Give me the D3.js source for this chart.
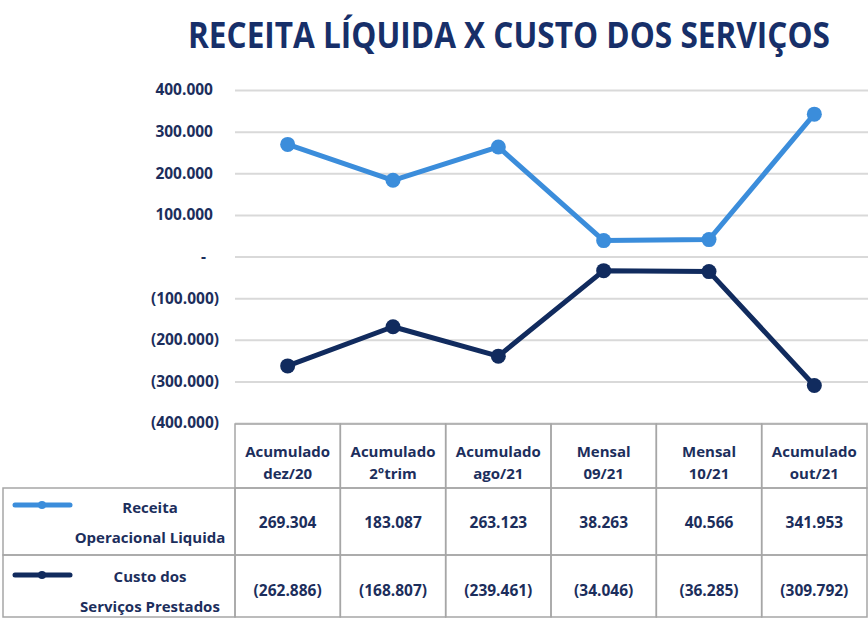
<!DOCTYPE html>
<html lang="pt">
<head>
    <meta charset="UTF-8">
    <title>Receita Líquida x Custo dos Serviços</title>
    <script src="https://d3js.org/d3.v7.min.js"></script>
    <style>
        body { margin: 0; background: #fff; }
        text { font-family: "Open Sans", sans-serif; font-weight: bold; fill: #1c2e5c; }
        .grid line { stroke: #d9d9d9; stroke-width: 2; }
        .grid path { display: none; }
        .cell { fill: none; stroke: #a6a6a6; stroke-width: 1.5; }
    </style>
</head>
<body>
<div id="chart"></div>
<script>
// data
const categories = ["dez/20", "2°trim", "ago/21", "09/21", "10/21", "out/21"];
const headerTop = ["Acumulado", "Acumulado", "Acumulado", "Mensal", "Mensal", "Acumulado"];
const receita = [269304, 183087, 263123, 38263, 40566, 341953];
const custo = [-262886, -168807, -239461, -34046, -36285, -309792];
const yTicks = [400000, 300000, 200000, 100000, 0, -100000, -200000, -300000, -400000];
const seriesNames = [["Receita", "Operacional Liquida"], ["Custo dos", "Serviços Prestados"]];
const seriesColors = ["#3b8ddb", "#112b5e"];
const title = "RECEITA LÍQUIDA X CUSTO DOS SERVIÇOS";

const W = 868, H = 618;
const plotLeft = 235, plotRight = 867;

// number format like the spreadsheet: 269.304 / (262.886) / -
const thousands = d3.formatLocale({ decimal: ",", thousands: ".", grouping: [3], currency: ["", ""] }).format(",");
function fmt(v) {
    if (v === 0) return "-";
    return v < 0 ? "(" + thousands(-v) + ")" : thousands(v);
}

const svg = d3.select("#chart").append("svg")
    .attr("width", W)
    .attr("height", H);

// title, squeezed horizontally to the condensed look of the original
const titleText = svg.append("text")
    .attr("x", 0)
    .attr("y", 0)
    .style("font-size", "35px")
    .style("fill", "#172f69")
    .text(title);
const natural = titleText.node().getComputedTextLength();
titleText.attr("transform", `translate(188,48) scale(${642 / natural},1)`);

// scales
const x = d3.scaleBand()
    .domain(categories)
    .range([plotLeft, plotRight])
    .paddingInner(0);

const y = d3.scaleLinear()
    .domain([-400000, 400000])
    .range([423, 90]);

const cx = (i) => x(categories[i]) + x.bandwidth() / 2;

// gridlines
svg.append("g")
    .attr("class", "grid")
    .attr("transform", `translate(${plotLeft},0)`)
    .call(d3.axisLeft(y).tickValues(yTicks).tickSize(-(W - plotLeft)).tickFormat(""));

// y labels
const yAxis = svg.append("g")
    .attr("transform", `translate(219,0)`)
    .call(d3.axisLeft(y).tickValues(yTicks).tickSize(0).tickPadding(0).tickFormat(fmt));
yAxis.select(".domain").remove();
yAxis.selectAll("text")
    .style("font-size", "15.5px")
    .style("font-family", "\"Open Sans\", sans-serif")
    .style("fill", "#1c2e5c")
    .attr("dx", d => d > 0 ? -6 : (d === 0 ? -13 : 0));

// lines and markers
const seriesData = [receita, custo];
const line = d3.line()
    .x((d, i) => cx(i))
    .y(d => y(d));

seriesData.forEach((vals, s) => {
    svg.append("path")
        .datum(vals)
        .attr("fill", "none")
        .attr("stroke", seriesColors[s])
        .attr("stroke-width", 5)
        .attr("stroke-linejoin", "round")
        .attr("d", line);

    svg.selectAll(".dot" + s)
        .data(vals)
        .enter()
        .append("circle")
        .attr("cx", (d, i) => cx(i))
        .attr("cy", d => y(d))
        .attr("r", 7.5)
        .attr("fill", seriesColors[s]);
});

// data table
const headTop = 424, headBottom = 488, row1Bottom = 555, row2Bottom = 617;
const rowTops = [headBottom, row1Bottom];
const rowBottoms = [row1Bottom, row2Bottom];

// header cells
categories.forEach((c, i) => {
    svg.append("rect")
        .attr("class", "cell")
        .attr("x", x(c))
        .attr("y", headTop)
        .attr("width", x.bandwidth())
        .attr("height", headBottom - headTop);
    svg.append("text")
        .attr("x", cx(i))
        .attr("y", 457)
        .attr("text-anchor", "middle")
        .style("font-size", "15px")
        .text(headerTop[i]);
    svg.append("text")
        .attr("x", cx(i))
        .attr("y", 479)
        .attr("text-anchor", "middle")
        .style("font-size", "15px")
        .text(c);
});

// series rows
const legendLineY = [505, 575];
const nameBaselines = [[513, 543], [582, 612]];
const valueBaselines = [528, 596];

seriesData.forEach((vals, s) => {
    svg.append("rect")
        .attr("class", "cell")
        .attr("x", 3)
        .attr("y", rowTops[s])
        .attr("width", plotLeft - 3)
        .attr("height", rowBottoms[s] - rowTops[s]);

    svg.append("line")
        .attr("x1", 15).attr("x2", 70)
        .attr("y1", legendLineY[s]).attr("y2", legendLineY[s])
        .attr("stroke", seriesColors[s])
        .attr("stroke-width", 5)
        .attr("stroke-linecap", "round");
    svg.append("circle")
        .attr("cx", 42)
        .attr("cy", legendLineY[s])
        .attr("r", 4)
        .attr("fill", seriesColors[s]);

    seriesNames[s].forEach((t, k) => {
        svg.append("text")
            .attr("x", 150)
            .attr("y", nameBaselines[s][k])
            .attr("text-anchor", "middle")
            .style("font-size", "15px")
            .text(t);
    });

    vals.forEach((v, i) => {
        svg.append("rect")
            .attr("class", "cell")
            .attr("x", x(categories[i]))
            .attr("y", rowTops[s])
            .attr("width", x.bandwidth())
            .attr("height", rowBottoms[s] - rowTops[s]);
        svg.append("text")
            .attr("x", cx(i))
            .attr("y", valueBaselines[s])
            .attr("text-anchor", "middle")
            .style("font-size", "15.5px")
            .text(fmt(v));
    });
});
</script>
</body>
</html>
